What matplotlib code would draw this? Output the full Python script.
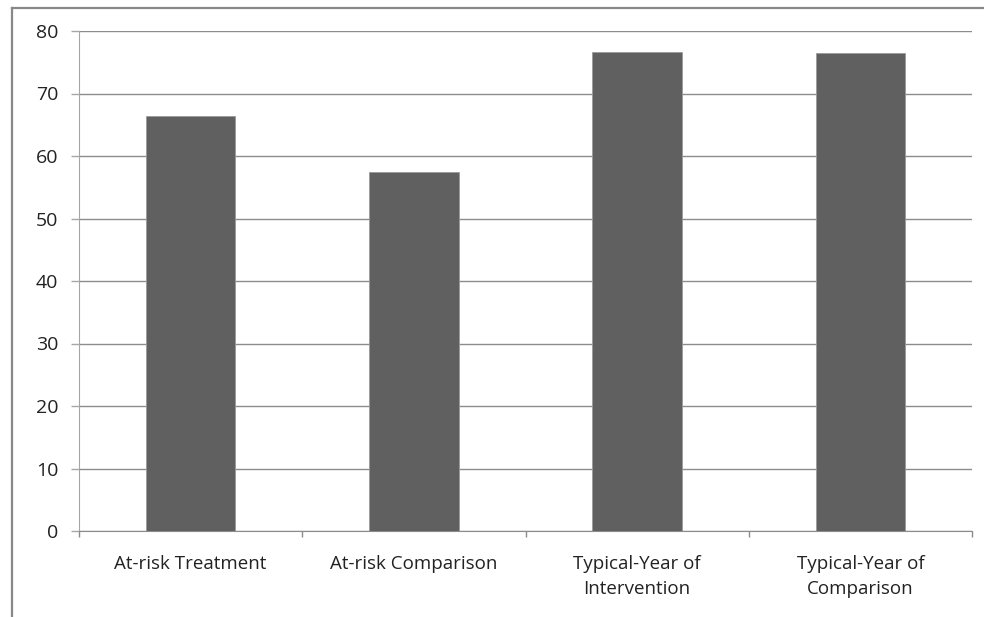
import matplotlib
matplotlib.use('Agg')
import matplotlib.pyplot as plt
from matplotlib.lines import Line2D
import numpy as np

# 各组数值
groups = ['At-risk Treatment', 'At-risk Comparison',
          'Typical-Year of\nIntervention', 'Typical-Year of\nComparison']
values = [66.4, 57.5, 76.7, 76.4]
yticks = [0, 10, 20, 30, 40, 50, 60, 70, 80]

plt.rcParams['font.family'] = ['Open Sans', 'DejaVu Sans']

W, H = 984, 617
fig = plt.figure(figsize=(W / 100, H / 100), dpi=100)
ax = fig.add_axes([79 / W, (H - 531) / H, (972 - 79) / W, 500 / H])

x = np.arange(len(groups))
ax.bar(x, values, width=0.4, color='#606060', edgecolor='#9a9a9a', linewidth=0.6, zorder=3)

ax.set_xlim(-0.5, len(groups) - 0.5)
ax.set_ylim(0, 80)
ax.set_yticks(yticks)
ax.yaxis.grid(True, color='#8c8c8c', linewidth=1.0, zorder=0)

for s in ['top', 'right']:
    ax.spines[s].set_visible(False)
ax.spines['left'].set_color('#a6a6a6')
ax.spines['bottom'].set_color('#8c8c8c')

# 分类标签放在刻度中间，刻度线放在分类之间
ax.set_xticks(x)
ax.set_xticklabels(groups, fontsize=13.5, color='#222222', linespacing=1.5)
ax.tick_params(axis='x', length=0, pad=17)
ax.set_xticks(np.arange(len(groups) + 1) - 0.5, minor=True)
ax.tick_params(axis='x', which='minor', length=4, color='#8c8c8c', width=1)
ax.tick_params(axis='y', length=6, color='#a6a6a6', width=1, pad=9, labelsize=14, labelcolor='#222222')

# 外框（左、上）
fig.add_artist(Line2D([11.5 / W, 11.5 / W], [0, (H - 8) / H], color='#888888', linewidth=1.6))
fig.add_artist(Line2D([11.5 / W, 1], [(H - 8) / H, (H - 8) / H], color='#888888', linewidth=1.6))

fig.savefig('out.png', dpi=100)
